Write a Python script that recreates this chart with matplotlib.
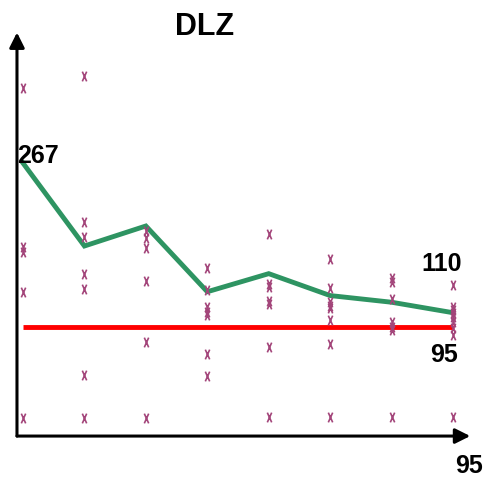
import matplotlib
matplotlib.use("Agg")
import matplotlib.pyplot as plt
from matplotlib.path import Path

# ---- data ----
columns = [1, 2, 3, 4, 5, 6, 7, 8]
mean_line = [267, 180, 201, 132, 151, 128, 121, 110]
limit_value = 95
scatter_values = [
    [346, 179, 174, 132, 0],
    [358, 205, 189, 151, 135, 45, 0],
    [196, 188, 178, 143, 79, 0],
    [157, 134, 116, 111, 108, 67, 44],
    [193, 140, 137, 122, 119, 74, 1],
    [166, 136, 121, 117, 115, 102, 77, 1],
    [146, 142, 124, 100, 95, 92, 1],
    [139, 116, 113, 110, 106, 100, 94, 87, 1],
]
title_text = "DLZ"
start_label = "267"
end_label = "110"
limit_label = "95"
axis_label = "95"

# ---- figure ----
fig = plt.figure(figsize=(4.87, 4.82), dpi=100)
ax = fig.add_axes([0, 0, 1, 1])
ax.set_xlim(0.6256, 8.553)
ax.set_ylim(-67.6, 438.1)
ax.axis("off")

font = "Liberation Sans"

# axes with arrows
x0, y0 = 0.902, -19.4
ax.annotate("", xy=(8.28, y0), xytext=(x0, y0),
            arrowprops=dict(arrowstyle="-|>,head_length=0.9,head_width=0.45",
                            color="black", lw=2.2, shrinkA=0, shrinkB=0))
ax.annotate("", xy=(x0, 404), xytext=(x0, y0),
            arrowprops=dict(arrowstyle="-|>,head_length=0.9,head_width=0.45",
                            color="black", lw=2.2, shrinkA=0, shrinkB=0))

# custom narrow x marker
xm = Path([(-0.45, -1), (0.45, 1), (-0.45, 1), (0.45, -1)],
          [Path.MOVETO, Path.LINETO, Path.MOVETO, Path.LINETO])

for c, vals in zip(columns, scatter_values):
    ax.plot([c] * len(vals), vals, linestyle="none", marker=xm,
            markersize=7, markerfacecolor="none", markeredgecolor="#a3457a",
            markeredgewidth=1.2, zorder=4)

ax.plot([columns[0], columns[-1]], [limit_value, limit_value],
        color="#ff0000", lw=3.5, zorder=3, solid_capstyle="butt")
ax.plot(columns, mean_line, color="#2e9462", lw=3.5, zorder=3,
        solid_joinstyle="miter")

ax.text(3.95, 401, title_text, fontsize=22, fontweight="bold",
        ha="center", va="baseline", family=font)
ax.text(0.902, 267, start_label, fontsize=18, fontweight="bold",
        ha="left", va="baseline", family=font)
ax.text(8.146, 153.7, end_label, fontsize=18, fontweight="bold",
        ha="right", va="baseline", family=font)
ax.text(8.081, 58.3, limit_label, fontsize=18, fontweight="bold",
        ha="right", va="baseline", family=font)
ax.text(8.488, -58.2, axis_label, fontsize=18, fontweight="bold",
        ha="right", va="baseline", family=font)

fig.savefig("out.png", dpi=100)
